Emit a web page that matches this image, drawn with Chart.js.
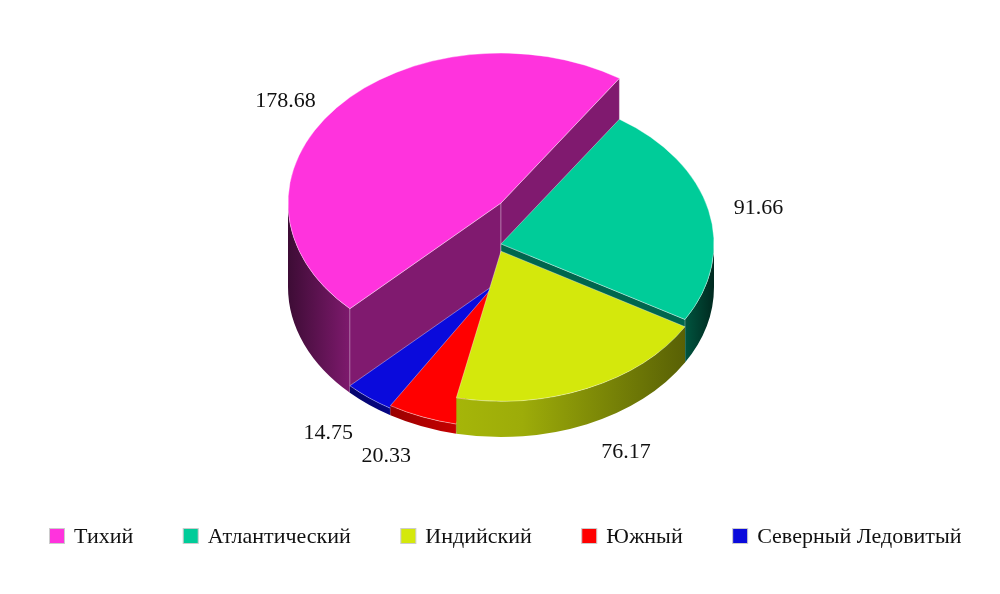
<!DOCTYPE html>
<html>
<head>
<meta charset="utf-8">
<title>Океаны</title>
<script src="https://cdn.jsdelivr.net/npm/chart.js@4/dist/chart.umd.min.js"></script>
<style>
    html, body { margin: 0; background: #fff; }
    canvas { display: block; }
</style>
</head>
<body>
<canvas id="pieChart" width="1000" height="594"></canvas>
<script>
const oceans = ["Тихий", "Атлантический", "Индийский", "Южный", "Северный Ледовитый"];
const areas = [178.68, 91.66, 76.17, 20.33, 14.75];
const colors = ["#FF33DD", "#00CC99", "#D4E80C", "#FF0000", "#0A0ADC"];

// the look of the pie, everything else comes from the arc elements
const pieX = 501;
const baseY = 287;
const radiusX = 213;
const radiusY = 150;
const heightPerUnit = 0.47;
const drawOrder = [0, 1, 4, 3, 2];
// where the value labels sit, relative to the outer rim of the slice
const labelNudge = [[-51, -6], [50, -2], [39, 64], [-36, 39], [-41, 35]];

const serif = "'Liberation Serif', 'Times New Roman', serif";

function shade(hex, k) {
    let r = parseInt(hex.slice(1, 3), 16);
    let g = parseInt(hex.slice(3, 5), 16);
    let b = parseInt(hex.slice(5, 7), 16);
    return "rgb(" + Math.round(r * k) + "," + Math.round(g * k) + "," + Math.round(b * k) + ")";
}

function sideGradient(ctx, color) {
    let grad = ctx.createLinearGradient(pieX - radiusX, 0, pieX + radiusX, 0);
    grad.addColorStop(0, shade(color, 0.24));
    grad.addColorStop(0.15, shade(color, 0.5));
    grad.addColorStop(0.4, shade(color, 0.78));
    grad.addColorStop(0.55, shade(color, 0.74));
    grad.addColorStop(0.93, shade(color, 0.42));
    grad.addColorStop(1, shade(color, 0.2));
    return grad;
}

// outer wall, only the part facing us (0 to 180 degrees, also after a full turn)
function drawOuterWall(ctx, arc, topY, color) {
    for (let turn = 0; turn < 2; turn++) {
        let from = Math.max(arc.startAngle, turn * 2 * Math.PI);
        let to = Math.min(arc.endAngle, turn * 2 * Math.PI + Math.PI);
        if (from >= to) continue;
        ctx.beginPath();
        ctx.ellipse(pieX, topY, radiusX, radiusY, 0, from, to);
        ctx.ellipse(pieX, baseY, radiusX, radiusY, 0, to, from, true);
        ctx.closePath();
        ctx.fillStyle = sideGradient(ctx, color);
        ctx.fill();
    }
}

// the flat cut face between centre and rim
function drawCutWall(ctx, angle, topY, color) {
    let x = pieX + Math.cos(angle) * radiusX;
    let y = Math.sin(angle) * radiusY;
    ctx.beginPath();
    ctx.moveTo(pieX, topY);
    ctx.lineTo(x, topY + y);
    ctx.lineTo(x, baseY + y);
    ctx.lineTo(pieX, baseY);
    ctx.closePath();
    ctx.fillStyle = shade(color, 0.5);
    ctx.fill();
    ctx.strokeStyle = "rgba(255,255,255,0.3)";
    ctx.lineWidth = 1;
    ctx.stroke();
}

// the library's legend wraps at this spacing, so it is drawn here in one row
function drawLegend(ctx) {
    ctx.font = "22px " + serif;
    ctx.textAlign = "left";
    ctx.textBaseline = "middle";
    let total = 49.5 * (oceans.length - 1);
    for (let i = 0; i < oceans.length; i++) {
        total += 25 + ctx.measureText(oceans[i]).width;
    }
    let x = Math.round(505 - total / 2);
    for (let i = 0; i < oceans.length; i++) {
        ctx.fillStyle = colors[i];
        ctx.fillRect(x + 0.5, 528.5, 15, 15);
        ctx.strokeStyle = "#ccc";
        ctx.lineWidth = 1;
        ctx.strokeRect(x + 0.5, 528.5, 15, 15);
        ctx.fillStyle = "#111";
        ctx.fillText(oceans[i], x + 25, 537);
        x += 25 + ctx.measureText(oceans[i]).width + 49.5;
    }
}

const pie3d = {
    id: "pie3d",
    beforeDatasetDraw(chart, args) {
        let ctx = chart.ctx;
        let arcs = args.meta.data;
        for (let n = 0; n < drawOrder.length; n++) {
            let i = drawOrder[n];
            let arc = arcs[i];
            let topY = baseY - areas[i] * heightPerUnit;
            drawOuterWall(ctx, arc, topY, colors[i]);
            // a cut face that turns away from us stays hidden
            if (Math.cos(arc.startAngle) < 0) drawCutWall(ctx, arc.startAngle, topY, colors[i]);
            if (Math.cos(arc.endAngle) > 0) drawCutWall(ctx, arc.endAngle, topY, colors[i]);
            // top face is the library's own arc, squashed into an ellipse
            ctx.save();
            ctx.translate(pieX, topY);
            ctx.scale(1, radiusY / radiusX);
            ctx.translate(-arc.x, -arc.y);
            arc.draw(ctx);
            ctx.restore();
        }
        return false;
    },
    afterDraw(chart) {
        let ctx = chart.ctx;
        let arcs = chart.getDatasetMeta(0).data;
        ctx.save();
        ctx.font = "22px " + serif;
        ctx.fillStyle = "#111";
        ctx.textAlign = "center";
        ctx.textBaseline = "middle";
        for (let i = 0; i < arcs.length; i++) {
            let mid = (arcs[i].startAngle + arcs[i].endAngle) / 2;
            let topY = baseY - areas[i] * heightPerUnit;
            let x = pieX + Math.cos(mid) * radiusX + labelNudge[i][0];
            let y = topY + Math.sin(mid) * radiusY + labelNudge[i][1];
            ctx.fillText(areas[i].toFixed(2), x, y);
        }
        drawLegend(ctx);
        ctx.restore();
    }
};

let ctx = document.getElementById("pieChart").getContext("2d");
let myChart = new Chart(ctx, {
    type: "pie",
    data: {
        labels: oceans,
        datasets: [{
            data: areas,
            backgroundColor: colors,
            borderColor: "rgba(255,255,255,0.45)",
            borderWidth: 1,
            radius: radiusX
        }]
    },
    options: {
        responsive: false,
        animation: false,
        rotation: 225.2,
        plugins: {
            tooltip: { enabled: false },
            legend: { display: false }
        }
    },
    plugins: [pie3d]
});
</script>
</body>
</html>
